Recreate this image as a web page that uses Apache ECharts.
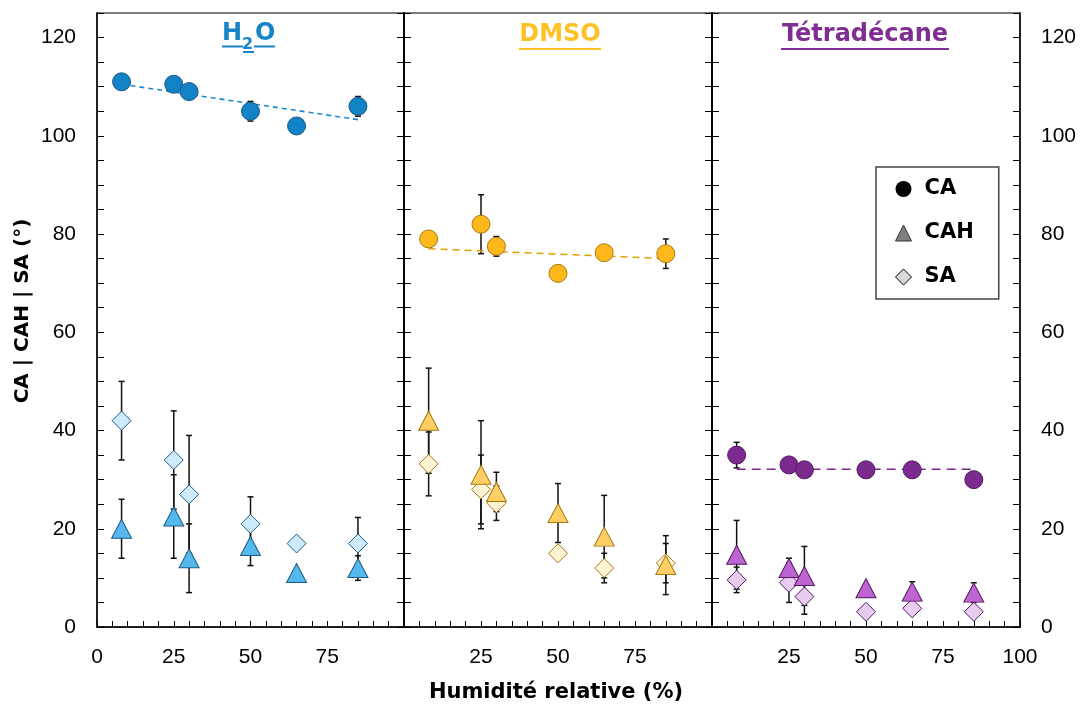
<!DOCTYPE html>
<html>
<head>
<meta charset="utf-8">
<script src="https://cdn.jsdelivr.net/npm/echarts@6/dist/echarts.min.js"></script>
<style>
  html, body { margin: 0; padding: 0; background: #fff; }
  #chart { width: 1082px; height: 706px; }
</style>
</head>
<body>
<div id="chart"></div>
<script>
// ---- Data ----
const rh = [8, 25, 30, 50, 65, 85]; // Humidité relative (%)

const h2oCA      = [111, 110.5, 109, 105, 102, 106];
const h2oCAErr   = [0, 0, 0, 2, 0, 2];
const h2oCAH     = [20, 22.5, 14, 16.5, 11, 12];
const h2oCAHErr  = [6, 8.5, 7, 4, 0, 2.5];
const h2oSA      = [42, 34, 27, 21, 17, 17];
const h2oSAErr   = [8, 10, 12, 5.5, 0, 5.3];
const h2oTrend   = [[8, 110.5], [85, 103.3]];

const dmsoCA     = [79, 82, 77.5, 72, 76.2, 76];
const dmsoCAErr  = [0, 6, 2, 0, 0, 3];
const dmsoCAH    = [42, 31, 27.5, 23.2, 18.4, 12.6];
const dmsoCAHErr = [10.7, 11, 4, 6, 8.4, 6];
const dmsoSA     = [33.2, 28, 25.2, 15, 12, 13];
const dmsoSAErr  = [6.5, 7, 3.5, 0, 3, 4];
const dmsoTrend  = [[8, 77], [85, 75]];

const tetCA      = [35, 33, 32, 32, 32, 30];
const tetCAErr   = [2.6, 0, 0, 0, 0, 1.5];
const tetCAH     = [14.7, 12, 10.4, 7.9, 7.2, 7];
const tetCAHErr  = [7, 2, 6, 0, 2, 2];
const tetSA      = [9.6, 9, 6.2, 3.1, 3.8, 3.1];
const tetSAErr   = [2.6, 4, 3.6, 0, 0, 0];
const tetTrend   = [[8, 32.1], [85, 32.1]];

const yTickLabels = [0, 20, 40, 60, 80, 100, 120];
const xTickLabels = [[0, 25, 50, 75], [25, 50, 75], [25, 50, 75, 100]];
const panelTitles = ['H2O', 'DMSO', 'Tétradécane'];

// ---- Styles ----
const palettes = [
  { ca: '#1282C6', cah: '#55B8EC', sa: '#CDEBFB', border: '#1D5A82', trend: '#1A8BD0', title: '#1585C8' },
  { ca: '#FFB81C', cah: '#FFCF66', sa: '#FFF3D6', border: '#A67A10', trend: '#E0A000', title: '#FFC125' },
  { ca: '#7B2A8E', cah: '#BE64D2', sa: '#E8CCF0', border: '#52195F', trend: '#7B2A8E', title: '#7E2F91' }
];
const trendDash = [[5, 4], [7, 5], [9, 6]];
const grids = [
  { left: 97, top: 13, width: 307, height: 614 },
  { left: 404, top: 13, width: 308, height: 614 },
  { left: 712, top: 13, width: 308, height: 614 }
];
const tickFont = { fontFamily: 'Liberation Sans', fontSize: 21, color: '#000' };

const panels = [
  { ca: h2oCA, caE: h2oCAErr, cah: h2oCAH, cahE: h2oCAHErr, sa: h2oSA, saE: h2oSAErr, trend: h2oTrend },
  { ca: dmsoCA, caE: dmsoCAErr, cah: dmsoCAH, cahE: dmsoCAHErr, sa: dmsoSA, saE: dmsoSAErr, trend: dmsoTrend },
  { ca: tetCA, caE: tetCAErr, cah: tetCAH, cahE: tetCAHErr, sa: tetSA, saE: tetSAErr, trend: tetTrend }
];

function errSeries(p, vals, errs) {
  return {
    type: 'custom', coordinateSystem: 'cartesian2d', xAxisIndex: p, yAxisIndex: p * 2,
    silent: true, z: 2,
    encode: { x: 0, y: 1 },
    data: rh.map((x, i) => [x, vals[i], errs[i]]),
    renderItem: function (params, api) {
      const x = api.value(0), y = api.value(1), e = api.value(2);
      if (!e) return null;
      const t = api.coord([x, y + e]), b = api.coord([x, y - e]);
      const st = { stroke: '#111', lineWidth: 1.5 };
      return {
        type: 'group', children: [
          { type: 'line', shape: { x1: t[0], y1: t[1], x2: b[0], y2: b[1] }, style: st },
          { type: 'line', shape: { x1: t[0] - 3, y1: t[1], x2: t[0] + 3, y2: t[1] }, style: st },
          { type: 'line', shape: { x1: b[0] - 3, y1: b[1], x2: b[0] + 3, y2: b[1] }, style: st }
        ]
      };
    }
  };
}
function scatter(name, p, vals, symbol, size, fill, border) {
  return {
    type: 'scatter', name: name, xAxisIndex: p, yAxisIndex: p * 2, silent: true, z: 5,
    data: rh.map((x, i) => [x, vals[i]]),
    symbol: symbol, symbolSize: size,
    itemStyle: { color: fill, borderColor: border, borderWidth: 1, opacity: 1 }
  };
}

const series = [];
panels.forEach((d, p) => {
  const c = palettes[p];
  series.push(errSeries(p, d.ca, d.caE));
  series.push(errSeries(p, d.cah, d.cahE));
  series.push(errSeries(p, d.sa, d.saE));
  series.push({
    type: 'line', xAxisIndex: p, yAxisIndex: p * 2, data: d.trend, symbol: 'none', silent: true, z: 3,
    lineStyle: { color: c.trend, width: 1.6, type: trendDash[p] }
  });
  series.push(scatter('SA', p, d.sa, 'diamond', 19, c.sa, c.border));
  series.push(scatter('CAH', p, d.cah, 'triangle', [20, 19], c.cah, c.border));
  series.push(scatter('CA', p, d.ca, 'circle', 18, c.ca, c.border));
});

const xAxes = [], yAxes = [];
[0, 1, 2].forEach(p => {
  xAxes.push({
    type: 'value', gridIndex: p, min: 0, max: 100, interval: 5,
    axisLine: { show: true, onZero: false, lineStyle: { color: '#000', width: 1.5 } },
    axisTick: { show: true, inside: true, length: 6, lineStyle: { color: '#000', width: 1 } },
    axisLabel: {
      show: true, margin: 20, ...tickFont,
      showMinLabel: true, showMaxLabel: true,
      formatter: v => (xTickLabels[p].indexOf(v) >= 0 ? String(v) : '')
    },
    splitLine: { show: false }
  });
  ['left', 'right'].forEach(pos => {
    const showLab = (p === 0 && pos === 'left') || (p === 2 && pos === 'right');
    yAxes.push({
      type: 'value', gridIndex: p, position: pos, min: 0, max: 125, interval: 5,
      axisLine: { show: true, onZero: false, lineStyle: { color: '#000', width: 1.5 } },
      axisTick: { show: true, inside: true, length: 7, lineStyle: { color: '#000', width: 1 } },
      axisLabel: {
        show: showLab, margin: 21, ...tickFont,
        formatter: v => (yTickLabels.indexOf(v) >= 0 ? String(v) : '')
      },
      splitLine: { show: false }
    });
  });
});

const boldFont = '"DejaVu Sans"';
const graphics = [
  // H2O title
  { type: 'text', x: 222, y: 34, style: { text: 'H', font: 'bold 24px ' + boldFont, fill: palettes[0].title, textVerticalAlign: 'middle' } },
  { type: 'text', x: 242, y: 45, style: { text: '2', font: 'bold 16px ' + boldFont, fill: palettes[0].title, textVerticalAlign: 'middle' } },
  { type: 'text', x: 255, y: 34, style: { text: 'O', font: 'bold 24px ' + boldFont, fill: palettes[0].title, textVerticalAlign: 'middle' } },
  { type: 'rect', shape: { x: 222, y: 45.5, width: 21, height: 2 }, style: { fill: palettes[0].title } },
  { type: 'rect', shape: { x: 243, y: 51, width: 11, height: 2 }, style: { fill: palettes[0].title } },
  { type: 'rect', shape: { x: 254, y: 45.5, width: 21, height: 2 }, style: { fill: palettes[0].title } },
  // DMSO title
  { type: 'text', x: 560, y: 35, style: { text: panelTitles[1], font: 'bold 24px ' + boldFont, fill: palettes[1].title, textAlign: 'center', textVerticalAlign: 'middle' } },
  { type: 'rect', shape: { x: 519, y: 48, width: 82, height: 2 }, style: { fill: palettes[1].title } },
  // Tétradécane title
  { type: 'text', x: 865, y: 35, style: { text: panelTitles[2], font: 'bold 24px ' + boldFont, fill: palettes[2].title, textAlign: 'center', textVerticalAlign: 'middle' } },
  { type: 'rect', shape: { x: 781, y: 48, width: 168, height: 2 }, style: { fill: palettes[2].title } },
  // Axis titles
  { type: 'text', x: 556, y: 693, style: { text: 'Humidité relative (%)', font: 'bold 21px ' + boldFont, fill: '#000', textAlign: 'center', textVerticalAlign: 'middle' } },
  { type: 'text', x: 23, y: 311, rotation: Math.PI / 2, style: { text: 'CA | CAH | SA (°)', font: 'bold 20px ' + boldFont, fill: '#000', textAlign: 'center', textVerticalAlign: 'middle' } }
];

const chart = echarts.init(document.getElementById('chart'), null, { renderer: 'canvas' });
chart.setOption({
  animation: false,
  backgroundColor: '#fff',
  grid: grids.map(g => ({ ...g, show: true, borderColor: '#555', borderWidth: 1.5, backgroundColor: 'transparent', containLabel: false })),
  xAxis: xAxes,
  yAxis: yAxes,
  legend: {
    show: true, orient: 'vertical', left: 876, top: 167,
    backgroundColor: '#fff', borderColor: '#444', borderWidth: 1.5, borderRadius: 0,
    padding: [11, 25, 11, 19],
    itemWidth: 16, itemHeight: 16, itemGap: 22,
    symbolKeepAspect: true,
    selectedMode: false,
    textStyle: { fontFamily: 'DejaVu Sans', fontWeight: 'bold', fontSize: 21, color: '#000', lineHeight: 22, padding: [0, 0, 0, 8] },
    data: [
      { name: 'CA', icon: 'circle', itemStyle: { color: '#000', borderColor: '#000', borderWidth: 0 } },
      { name: 'CAH', icon: 'triangle', itemStyle: { color: '#7F7F7F', borderColor: '#333', borderWidth: 1 } },
      { name: 'SA', icon: 'diamond', itemStyle: { color: '#D9D9D9', borderColor: '#000', borderWidth: 1 } }
    ]
  },
  graphic: graphics,
  series: series
});
</script>
</body>
</html>
